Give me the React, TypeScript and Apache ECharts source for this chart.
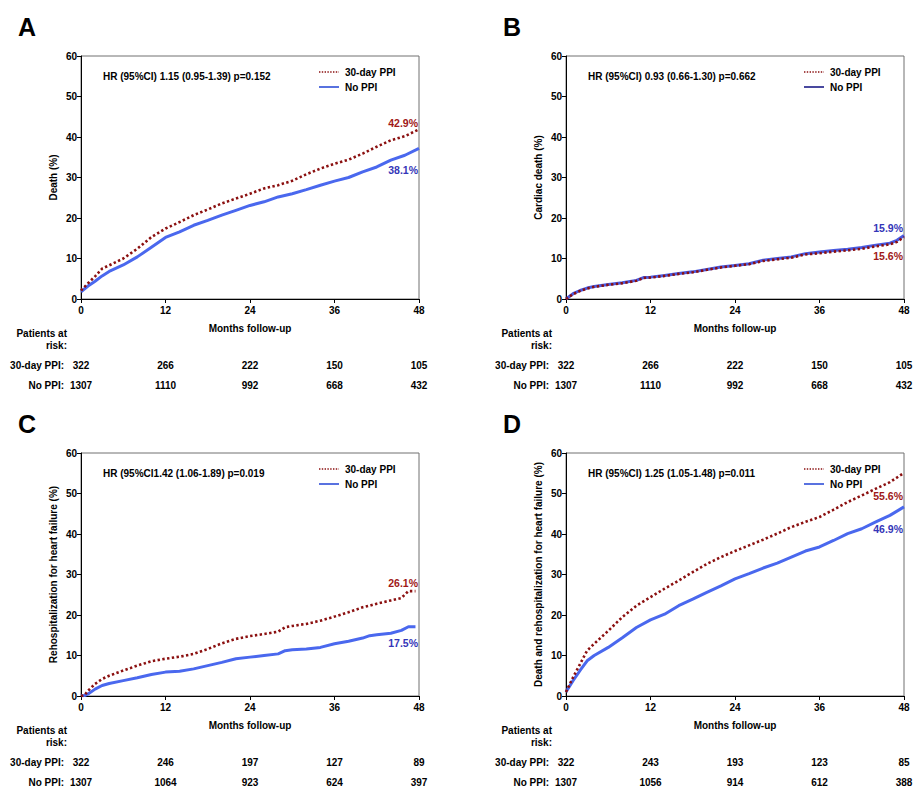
import React, { useEffect, useRef } from "react";
import * as echarts from "echarts";

// ---------- DATA ----------
const monthsA = [0, 1, 2, 3, 4, 6, 8, 10, 12, 14, 16, 18, 20, 22, 24, 26, 28, 30, 32, 34, 36, 38, 40, 42, 44, 46, 48];
const ppiA = [2.1, 3.9, 5.6, 7.5, 8.3, 10.0, 12.4, 15.3, 17.4, 19.0, 20.7, 22.1, 23.6, 24.8, 26.0, 27.3, 28.1, 29.2, 30.8, 32.2, 33.4, 34.4, 35.9, 37.6, 39.2, 40.2, 41.9];
const noA = [1.8, 3.2, 4.4, 5.7, 6.8, 8.4, 10.4, 12.8, 15.2, 16.6, 18.2, 19.4, 20.7, 21.9, 23.1, 24.0, 25.2, 26.0, 27.0, 28.1, 29.1, 30.0, 31.4, 32.6, 34.3, 35.5, 37.2];

const monthsB = [0, 1, 2, 3, 4, 6, 8, 10, 11, 12, 14, 16, 18, 20, 22, 24, 26, 28, 30, 32, 34, 36, 38, 40, 42, 44, 46, 47, 48];
const noB = [0, 1.3, 2.1, 2.7, 3.1, 3.6, 4.0, 4.6, 5.3, 5.4, 5.8, 6.3, 6.7, 7.3, 7.9, 8.3, 8.7, 9.6, 10.0, 10.4, 11.2, 11.6, 12.0, 12.3, 12.7, 13.3, 13.8, 14.5, 15.7];
const ppiB = [0, 1.2, 2.0, 2.6, 3.0, 3.5, 3.9, 4.5, 5.2, 5.3, 5.7, 6.2, 6.6, 7.2, 7.8, 8.2, 8.6, 9.4, 9.8, 10.2, 11.0, 11.3, 11.7, 12.0, 12.4, 13.0, 13.5, 14.1, 15.3];

const monthsC = [0, 0.5, 1, 2, 3, 4, 6, 8, 10, 12, 14, 16, 18, 20, 22, 24, 26, 28, 29, 30, 32, 34, 36, 38, 40, 41, 42, 44, 45.5, 46.5, 47.5];
const ppiC = [0, 0.2, 1.3, 3.0, 4.2, 5.0, 6.3, 7.5, 8.6, 9.2, 9.7, 10.4, 11.6, 13.0, 14.1, 14.8, 15.3, 15.9, 17.0, 17.3, 17.8, 18.6, 19.6, 20.7, 21.9, 22.3, 22.8, 23.6, 24.2, 25.9, 25.9];
const noC = [0, 0.1, 0.5, 1.7, 2.6, 3.1, 3.8, 4.5, 5.3, 5.9, 6.1, 6.7, 7.5, 8.3, 9.2, 9.6, 10.0, 10.4, 11.2, 11.4, 11.6, 12.0, 12.9, 13.5, 14.3, 14.9, 15.1, 15.5, 16.2, 17.1, 17.1];

const monthsD = [0, 1, 2, 3, 4, 6, 8, 10, 12, 14, 16, 18, 20, 22, 24, 26, 28, 30, 32, 34, 36, 38, 40, 42, 44, 46, 48];
const ppiD = [1.0, 4.6, 7.9, 11.2, 12.9, 16.1, 19.5, 22.3, 24.4, 26.5, 28.5, 30.6, 32.6, 34.3, 35.8, 37.2, 38.6, 40.1, 41.7, 43.0, 44.2, 46.0, 47.9, 49.5, 51.2, 52.8, 55.1];
const noD = [1.0, 3.8, 6.3, 8.7, 10.0, 12.0, 14.4, 16.9, 18.8, 20.2, 22.3, 23.9, 25.6, 27.2, 28.9, 30.2, 31.6, 32.8, 34.3, 35.8, 36.8, 38.4, 40.1, 41.3, 43.0, 44.6, 46.7];

const xTicks = [0, 12, 24, 36, 48];
const riskPpiA = [322, 266, 222, 150, 105];
const riskNoA = [1307, 1110, 992, 668, 432];
const riskPpiB = [322, 266, 222, 150, 105];
const riskNoB = [1307, 1110, 992, 668, 432];
const riskPpiC = [322, 246, 197, 127, 89];
const riskNoC = [1307, 1064, 923, 624, 397];
const riskPpiD = [322, 243, 193, 123, 85];
const riskNoD = [1307, 1056, 914, 612, 388];

const panelLetters = ["A", "B", "C", "D"];
const yTitles = [
  "Death (%)",
  "Cardiac death (%)",
  "Rehospitalization for heart failure (%)",
  "Death and rehospitalization for heart failure (%)",
];
const hrTexts = [
  "HR (95%CI) 1.15 (0.95-1.39) p=0.152",
  "HR (95%CI) 0.93 (0.66-1.30) p=0.662",
  "HR (95%CI1.42 (1.06-1.89) p=0.019",
  "HR (95%CI) 1.25 (1.05-1.48) p=0.011",
];
const ppiEndLabels = ["42.9%", "15.6%", "26.1%", "55.6%"];
const noEndLabels = ["38.1%", "15.9%", "17.5%", "46.9%"];
const seriesNames = ["30-day PPI", "No PPI"];

// ---------- LAYOUT ----------
const FONT = "'Liberation Sans', Arial, sans-serif";
const RED = "#8b1010";
const BLUE = "#4a68ee";
const BLUE_TXT = "#3436b8";
const GRID_W = 338;
const GRID_H = 243;
const panelPos = [
  { left: 81, top: 56 },
  { left: 566, top: 56 },
  { left: 81, top: 453 },
  { left: 566, top: 453 },
];
const ppiLabelY = [123, 256, 583, 496];
const noLabelY = [170, 228, 643, 529];

const panelData = [
  { m: monthsA, ppi: ppiA, no: noA, rp: riskPpiA, rn: riskNoA },
  { m: monthsB, ppi: ppiB, no: noB, rp: riskPpiB, rn: riskNoB },
  { m: monthsC, ppi: ppiC, no: noC, rp: riskPpiC, rn: riskNoC },
  { m: monthsD, ppi: ppiD, no: noD, rp: riskPpiD, rn: riskNoD },
];

function txt(text: string, x: number, y: number, opts: any = {}) {
  return {
    type: "text",
    x,
    y,
    silent: true,
    style: {
      text,
      fill: opts.fill || "#000",
      font: `bold ${opts.size || 10}px ${FONT}`,
      align: opts.align || "left",
      verticalAlign: "middle",
    },
  };
}

export default function App() {
  const ref = useRef<HTMLDivElement>(null);

  useEffect(() => {
    document.body.style.margin = "0";
    if (!ref.current) return;
    const chart = echarts.init(ref.current, null, { renderer: "svg" });

    const grids: any[] = [];
    const xAxes: any[] = [];
    const yAxes: any[] = [];
    const series: any[] = [];
    const graphic: any[] = [];

    panelData.forEach((p, i) => {
      const pos = panelPos[i];
      const right = pos.left + GRID_W;
      const bottom = pos.top + GRID_H;
      grids.push({
        left: pos.left,
        top: pos.top,
        width: GRID_W,
        height: GRID_H,
        show: true,
        borderColor: "#707070",
        borderWidth: 1,
        backgroundColor: "transparent",
      });
      xAxes.push({
        type: "value",
        gridIndex: i,
        min: 0,
        max: 48,
        interval: 12,
        name: "Months follow-up",
        nameLocation: "middle",
        nameGap: 24,
        nameTextStyle: { fontFamily: FONT, fontWeight: "bold", fontSize: 10, color: "#000" },
        axisLine: { onZero: false, lineStyle: { color: "#000", width: 1 } },
        axisTick: { length: 4, lineStyle: { color: "#000" } },
        axisLabel: { fontFamily: FONT, fontWeight: "bold", fontSize: 10, color: "#000", margin: 6 },
        splitLine: { show: false },
      });
      yAxes.push({
        type: "value",
        gridIndex: i,
        min: 0,
        max: 60,
        interval: 10,
        name: yTitles[i],
        nameLocation: "middle",
        nameGap: 23,
        nameTextStyle: { fontFamily: FONT, fontWeight: "bold", fontSize: 10, color: "#000" },
        axisLine: { show: true, onZero: false, lineStyle: { color: "#000", width: 1 } },
        axisTick: { show: true, length: 4, lineStyle: { color: "#000" } },
        axisLabel: { fontFamily: FONT, fontWeight: "bold", fontSize: 10, color: "#000", margin: 4 },
        splitLine: { show: false },
      });
      series.push({
        name: seriesNames[1],
        type: "line",
        xAxisIndex: i,
        yAxisIndex: i,
        data: p.m.map((mm, k) => [mm, p.no[k]]),
        showSymbol: false,
        lineStyle: { color: i === 1 ? "#4a5ae0" : BLUE, width: 3 },
        z: 2,
      });
      series.push({
        name: seriesNames[0],
        type: "line",
        xAxisIndex: i,
        yAxisIndex: i,
        data: p.m.map((mm, k) => [mm, p.ppi[k]]),
        showSymbol: false,
        lineStyle: { color: RED, width: 2.6, type: [2.4, 2.4], cap: "butt" },
        z: 3,
      });

      // panel letter
      graphic.push(txt(panelLetters[i], pos.left - 63, pos.top - 29, { size: 25 }));
      // HR text
      graphic.push(txt(hrTexts[i], pos.left + 22, pos.top + 20));
      // legend
      const lx = pos.left + 238;
      const ly1 = pos.top + 16;
      const ly2 = pos.top + 31;
      graphic.push({
        type: "line",
        silent: true,
        shape: { x1: lx, y1: ly1, x2: lx + 20, y2: ly1 },
        style: { stroke: RED, lineWidth: 1.4, lineDash: [1.4, 1.4] },
      });
      graphic.push({
        type: "line",
        silent: true,
        shape: { x1: lx, y1: ly2, x2: lx + 20, y2: ly2 },
        style: { stroke: i === 1 ? "#1c1c88" : "#2f4fd8", lineWidth: 1.6 },
      });
      graphic.push(txt(seriesNames[0], lx + 26, ly1));
      graphic.push(txt(seriesNames[1], lx + 26, ly2));
      // end labels
      graphic.push(txt(ppiEndLabels[i], right - 1, ppiLabelY[i], { align: "right", fill: "#a01818", size: 10.5 }));
      graphic.push(txt(noEndLabels[i], right - 1, noLabelY[i], { align: "right", fill: BLUE_TXT, size: 10.5 }));
      // risk table
      graphic.push(txt("Patients at", pos.left - 14, bottom + 34, { align: "right" }));
      graphic.push(txt("risk:", pos.left - 14, bottom + 46, { align: "right" }));
      graphic.push(txt("30-day PPI:", pos.left - 17, bottom + 66, { align: "right" }));
      graphic.push(txt("No PPI:", pos.left - 17, bottom + 86, { align: "right" }));
      xTicks.forEach((t, k) => {
        const x = pos.left + (t / 48) * GRID_W;
        graphic.push(txt(String(p.rp[k]), x, bottom + 66, { align: "center" }));
        graphic.push(txt(String(p.rn[k]), x, bottom + 86, { align: "center" }));
      });
    });

    chart.setOption({
      animation: false,
      backgroundColor: "#fff",
      grid: grids,
      xAxis: xAxes,
      yAxis: yAxes,
      series,
      graphic,
    });

    return () => chart.dispose();
  }, []);

  return <div ref={ref} style={{ width: 923, height: 803 }} />;
}
